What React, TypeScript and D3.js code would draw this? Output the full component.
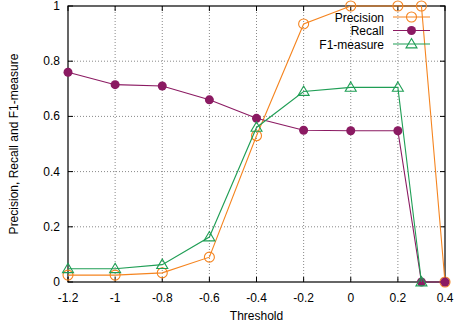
import React from "react";
import * as d3 from "d3";

const thresholds = [-1.2, -1, -0.8, -0.6, -0.4, -0.2, 0, 0.2, 0.3, 0.4];
const precision = [0.025, 0.025, 0.033, 0.09, 0.53, 0.935, 1, 1, 1, 0];
const recall = [0.76, 0.715, 0.71, 0.66, 0.593, 0.55, 0.548, 0.548, 0, 0];
const f1 = [0.048, 0.048, 0.063, 0.163, 0.56, 0.69, 0.705, 0.705, 0];
const xTicks = [-1.2, -1, -0.8, -0.6, -0.4, -0.2, 0, 0.2, 0.4];
const yTicks = [0, 0.2, 0.4, 0.6, 0.8, 1];
const seriesNames = ["Precision", "Recall", "F1-measure"];
const colors = ["#f5841f", "#8b1a62", "#1f9e55"];

const W = 456, H = 326;
const L = 68, R = 445, T = 6, B = 282;
const font = "Liberation Sans, Arial, sans-serif";

export default function App() {
  const x = d3.scaleLinear().domain([-1.2, 0.4]).range([L, R]);
  const y = d3.scaleLinear().domain([0, 1]).range([B, T]);
  const line = d3.line<[number, number]>().x(d => x(d[0])).y(d => y(d[1]));
  const series = [precision, recall, f1].map(v => v.map((val, i) => [thresholds[i], val] as [number, number]));

  const marker = (k: number, cx: number, cy: number, key: string) => {
    const c = colors[k];
    if (k === 0) return <circle key={key} cx={cx} cy={cy} r={5} fill="none" stroke={c} strokeWidth={1.1} />;
    if (k === 1) return <circle key={key} cx={cx} cy={cy} r={4.5} fill={c} />;
    const s = 5.5;
    return <path key={key} d={`M${cx},${cy - s}L${cx + s},${cy + s * 0.7}L${cx - s},${cy + s * 0.7}Z`} fill="none" stroke={c} strokeWidth={1.1} />;
  };

  const fmt = (v: number) => (Math.abs(v) < 1e-9 ? "0" : String(+v.toFixed(1)));

  return (
    <svg width={W} height={H} style={{ position: "absolute", left: 0, top: 0 }} fontFamily={font}>
      <rect width={W} height={H} fill="#fff" />
      {/* grid */}
      {xTicks.slice(1, -1).map(t => (
        <line key={"gx" + t} x1={x(t)} x2={x(t)} y1={T} y2={B} stroke="#888" strokeWidth={1} strokeDasharray="1,2" />
      ))}
      {yTicks.slice(1, -1).map(t => (
        <line key={"gy" + t} x1={L} x2={R} y1={y(t)} y2={y(t)} stroke="#888" strokeWidth={1} strokeDasharray="1,2" />
      ))}
      {/* ticks */}
      {xTicks.map(t => (
        <g key={"tx" + t}>
          <line x1={x(t)} x2={x(t)} y1={B} y2={B - 5} stroke="#000" />
          <line x1={x(t)} x2={x(t)} y1={T} y2={T + 5} stroke="#000" />
          <text x={x(t)} y={B + 20} textAnchor="middle" fontSize={12} fill="#000">{fmt(t)}</text>
        </g>
      ))}
      {yTicks.map(t => (
        <g key={"ty" + t}>
          <line x1={L} x2={L + 5} y1={y(t)} y2={y(t)} stroke="#000" />
          <line x1={R} x2={R - 5} y1={y(t)} y2={y(t)} stroke="#000" />
          <text x={L - 8} y={y(t) + 4} textAnchor="end" fontSize={12} fill="#000">{fmt(t)}</text>
        </g>
      ))}
      <rect x={L} y={T} width={R - L} height={B - T} fill="none" stroke="#000" strokeWidth={1.2} />
      {/* series */}
      {series.map((s, k) => (
        <g key={"s" + k}>
          <path d={line(s) || ""} fill="none" stroke={colors[k]} strokeWidth={1.1} />
          {s.map((d, i) => marker(k, x(d[0]), y(d[1]), `m${k}-${i}`))}
        </g>
      ))}
      {/* legend */}
      {seriesNames.map((n, k) => {
        const ly = 17 + k * 13.5;
        return (
          <g key={"lg" + k}>
            <text x={384} y={ly + 4.5} textAnchor="end" fontSize={12} fill="#000">{n}</text>
            <line x1={393} x2={430} y1={ly} y2={ly} stroke={colors[k]} strokeWidth={1.1} />
            {marker(k, 411.5, ly, "lm" + k)}
          </g>
        );
      })}
      <text x={x(-0.4)} y={320} textAnchor="middle" fontSize={12} fill="#000">Threshold</text>
      <text transform={`translate(18,${(T + B) / 2}) rotate(-90)`} textAnchor="middle" fontSize={12} fill="#000">
        Precision, Recall and F1-measure
      </text>
    </svg>
  );
}
